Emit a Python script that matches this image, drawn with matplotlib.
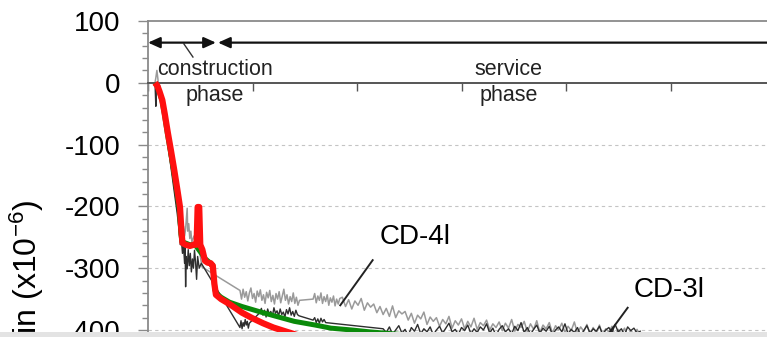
import numpy as np
import matplotlib
matplotlib.use('Agg')
import matplotlib.pyplot as plt
from matplotlib.patches import Rectangle
from matplotlib.ticker import MultipleLocator

plt.rcParams['font.family'] = ['Liberation Sans', 'DejaVu Sans']
plt.rcParams['mathtext.fontset'] = 'custom'
plt.rcParams['mathtext.rm'] = 'Liberation Sans'
plt.rcParams['mathtext.it'] = 'Liberation Sans:italic'
plt.rcParams['axes.unicode_minus'] = False

# ---- measured strain, gauge CD-4l (days, microstrain) ----
d4_a = [6.7, 7.5, 8.5, 9.5, 10.5, 11.5, 12.5, 14, 16, 18, 20, 22, 24, 26, 28, 30, 31, 32, 33, 34,
        35, 36, 37, 37.5, 38, 39, 40, 41, 42, 44, 46, 48, 50, 51.7]
s4_a = [0, 8, 20, 6, -15, -5, -25, -35, -55, -80, -105, -130, -155, -180, -205, -228, -250, -238, -255, -232,
        -248, -236, -215, -203, -240, -228, -252, -240, -258, -248, -255, -262, -280, -298]
s4_b = [-336, -350, -334, -347, -338, -353, -340, -332, -349, -341,
        -355, -337, -346, -335, -352, -343, -357, -339, -348, -336,
        -354, -344, -358, -341, -350, -338, -356, -345, -334, -352,
        -343, -358, -346, -354, -340, -357, -347, -360, -352]
s4_c = [-350, -341, -356, -345, -352, -340, -357, -346, -354, -343, -360, -348, -355, -345, -361, -350, -358, -349]
s4_d = [-347, -362, -351, -366, -353, -360, -349, -368, -356, -363,
        -358, -372, -362, -375, -365, -378, -361, -380, -369, -374,
        -370, -384, -373, -389, -376, -382, -371, -391, -379, -386,
        -380, -394, -383, -390, -378, -397, -385, -392, -382, -398,
        -386, -395, -381, -399, -388, -393, -384, -400, -390, -396,
        -387, -401, -389, -397, -383, -402, -391, -396, -386, -403,
        -390, -399, -385, -404, -392, -398, -388, -405, -393, -400,
        -389, -404, -394, -401, -387, -406, -395, -402, -391, -407,
        -396, -405, -392, -408, -398, -403, -394, -410, -399, -406,
        -397, -409, -401, -407, -399, -411]

# ---- measured strain, gauge CD-3l ----
d3_a = [6.7, 7.5, 8, 9, 10, 11, 12.5, 14, 16, 18, 20, 22, 24, 26, 28, 30, 31, 32, 33, 34,
        35, 35.5, 36, 36.5, 37.5, 38.5, 39.5, 40.5, 41.5, 42.5, 43.5, 44.5, 45.5, 46.5, 47.5, 49, 51]
s3_a = [0, -38, -5, -12, -10, -14, -26, -40, -60, -87, -112, -137, -162, -187, -212, -242, -262, -256, -276, -263,
        -292, -262, -330, -281, -301, -270, -296, -276, -306, -285, -300, -271, -290, -318, -281, -300, -292]
s3_b = [-396, -385, -398, -388, -394, -383, -392, -386, -397, -389]
s3_c = [-372, -365, -376, -368, -379, -366, -374, -370, -378, -364, -373, -369, -377,
        -366, -375, -371, -379, -367, -374, -364, -376, -370, -378, -368, -375, -377]
s3_d = [-384, -380, -388, -382, -389, -381, -387, -383, -388]
s3_e = [-398, -404, -395, -407, -400, -393, -405, -399, -409, -396,
        -402, -391, -406, -398, -403, -395, -408, -400, -394, -405,
        -397, -389, -403, -399, -407, -396, -401, -392, -406, -398,
        -404, -395, -400, -390, -405, -397, -409, -399, -393, -403,
        -398, -406, -394, -401, -388, -404, -396, -407, -399, -392,
        -405, -397, -402, -394, -408, -400, -395, -403, -390, -406,
        -399, -404, -396, -409, -401, -393, -405, -398, -402, -394,
        -407, -400, -396, -404, -391, -403, -398, -408, -395, -401,
        -397, -405, -402]

# ---- predicted curves ----
red_days = [6.7, 9, 11, 13.7, 16, 19, 22, 25, 28, 30.6, 32, 33, 36, 40, 44, 46.5, 47.5, 49, 50, 52,
            54.5, 57, 60, 62, 63.5, 65, 70, 78, 90, 100, 110, 120, 133, 150, 180, 220]
red_strain = [0, -5, -14, -28, -50, -81, -110, -140, -172, -201, -240, -259, -262, -264, -262, -262, -201, -201, -262, -270,
              -288, -291, -292, -296, -325, -343, -350, -358, -372, -381, -389, -396, -403, -412, -425, -440]
green_days = [6.7, 9, 11, 13.5, 15.8, 18.5, 21.5, 24.5, 27.5, 30, 31.5, 32.5, 40, 45, 55, 62, 64,
              65, 70, 78, 90, 100, 110, 125, 140, 160, 175, 195, 212, 240, 280, 330]
green_strain = [0, -6, -15, -30, -52, -82, -112, -142, -174, -205, -245, -257, -262, -262, -285, -295, -335,
                -340, -347, -355, -362, -367, -372, -379, -386, -392, -397, -400, -403, -407, -412, -417]

y_ticks = [-400, -300, -200, -100, 0, 100]

# sampling days of the logged runs
d4 = np.concatenate([d4_a, 88 + 1.5 * np.arange(len(s4_b)), 158 + 1.5 * np.arange(len(s4_c)),
                     186 + 3 * np.arange(len(s4_d))])
s4 = np.concatenate([s4_a, s4_b, s4_c, s4_d])
d3 = np.concatenate([d3_a, 88 + np.arange(len(s3_b)), 107 + 1.5 * np.arange(len(s3_c)),
                     158 + 1.5 * np.arange(len(s3_d)), 225 + 3 * np.arange(len(s3_e))])
s3 = np.concatenate([s3_a, s3_b, s3_c, s3_d, s3_e])

W, H = 767, 337
fig = plt.figure(figsize=(W / 100, H / 100), dpi=100)

# axes run past the right and bottom edges of the figure
y_lo, y_hi = -500, 100
px_per_100 = 61.8
ax_h = (y_hi - y_lo) / 100 * px_per_100
ax_top = 21
x_hi = 720
ax_w = x_hi / 100 * 104.5
ax = fig.add_axes([148 / W, (H - ax_top - ax_h) / H, ax_w / W, ax_h / H])
ax.set_xlim(0, x_hi)
ax.set_ylim(y_lo, y_hi)

for yv in y_ticks:
    if yv < 0:
        ax.axhline(yv, color='#c4c4c4', lw=0.8, ls=(0, (3, 3)), zorder=0)

ax.plot(d4, s4, color='#9a9a9a', lw=1.1, zorder=2)
ax.plot(d3, s3, color='#2e2e2e', lw=1.0, zorder=2)
ax.plot(green_days, green_strain, color='#0a8a0a', lw=3.6, zorder=3, solid_capstyle='butt')
ax.plot(red_days, red_strain, color='#ff1010', lw=4.5, zorder=4, solid_capstyle='butt')

# spines: top at 100, x-axis drawn along zero
ax.spines['right'].set_visible(False)
ax.spines['top'].set_color('#8a8a8a')
ax.spines['top'].set_linewidth(1.3)
ax.spines['left'].set_color('#8a8a8a')
ax.spines['left'].set_linewidth(1.3)
ax.spines['bottom'].set_position(('data', 0))
ax.spines['bottom'].set_color('#555555')
ax.spines['bottom'].set_linewidth(1.4)

ax.set_yticks(y_ticks)
ax.yaxis.set_minor_locator(MultipleLocator(20))
ax.tick_params(axis='y', which='major', direction='out', length=7, width=1, color='#8a8a8a',
               labelsize=20, pad=13)
ax.tick_params(axis='y', which='minor', direction='out', length=4.5, width=1, color='#8a8a8a')
ax.xaxis.set_major_locator(MultipleLocator(100))
ax.tick_params(axis='x', which='major', direction='out', length=5.5, width=1, color='#555555',
               labelbottom=False)

# construction / service phase markers
arrow_y = 65
ax.annotate('', xy=(0, arrow_y), xytext=(65, arrow_y), annotation_clip=False,
            arrowprops=dict(arrowstyle='<|-|>,head_length=0.6,head_width=0.27', mutation_scale=12,
                            color='#111111', lw=1.6, shrinkA=0, shrinkB=0))
ax.annotate('', xy=(67, arrow_y), xytext=(x_hi, arrow_y), annotation_clip=False,
            arrowprops=dict(arrowstyle='-|>,head_length=0.6,head_width=0.27', mutation_scale=12,
                            color='#111111', lw=1.6, shrinkA=0, shrinkB=0))
ax.plot([34.4, 43], [62.8, 41.7], color='#333333', lw=1)
ax.text(64, 21, 'construction', ha='center', va='center', fontsize=15.5, color='#222222')
ax.text(64, -21, 'phase', ha='center', va='center', fontsize=15.5, color='#222222')
ax.text(345, 21, 'service', ha='center', va='center', fontsize=15.5, color='#222222')
ax.text(345, -21, 'phase', ha='center', va='center', fontsize=15.5, color='#222222')

# gauge labels
ax.plot([215, 184], [-287, -360], color='#222222', lw=1.4, zorder=5)
ax.text(256, -250, 'CD-4l', ha='center', va='center', fontsize=20)
ax.plot([459, 433], [-364, -424], color='#222222', lw=1.4, zorder=5)
ax.text(499, -335, 'CD-3l', ha='center', va='center', fontsize=20)

fig.text(27 / W, (H - 200) / H, 'Strain (x10$^{-6}$)', rotation=90, ha='center', va='top', fontsize=23)

# grey band along the lower edge
fig.patches.append(Rectangle((0, 0), 1, 5.5 / H, transform=fig.transFigure, facecolor='#e3e3e3',
                             edgecolor='none', zorder=10))

fig.savefig('out.png', dpi=100)
